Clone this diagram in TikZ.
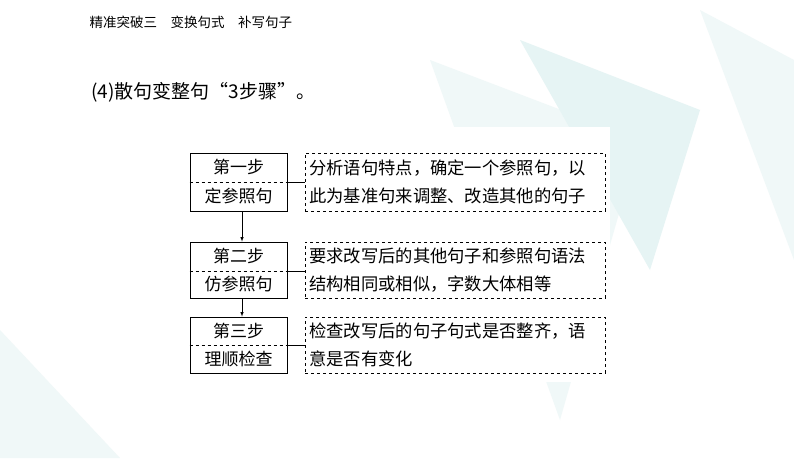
\documentclass[tikz,border=0pt]{standalone}
\usepackage{fontspec}
\newfontfamily\cjk{Noto Sans CJK SC}
\definecolor{teal1}{RGB}{230,244,244}
\definecolor{teal2}{RGB}{240,248,248}
\begin{document}
\begin{tikzpicture}[x=1pt,y=-1pt,font=\cjk,
  stepbox/.style={draw,line width=0.8pt},
  descbox/.style={draw,dashed,line width=0.6pt},
  lbl/.style={font=\cjk\fontsize{17}{20}\selectfont,inner sep=0pt},
  desc/.style={font=\cjk\fontsize{17.3}{28}\selectfont,inner sep=0pt,anchor=west,align=left}]
\useasboundingbox (0,0) rectangle (794,458);
\fill[white] (0,0) rectangle (794,458);
\fill[teal2] (430,60) -- (640,140) -- (560,420) -- cycle;
\fill[teal1] (520,40) -- (700,110) -- (650,270) -- cycle;
\fill[teal2] (700,10) -- (794,60) -- (794,260) -- cycle;
\fill[teal2] (0,330) -- (120,458) -- (0,458) -- cycle;
\fill[white] (187,127) rectangle (610,382);
\node[anchor=west,font=\cjk\fontsize{13.5}{16}\selectfont] (hdr) at (86,22) {精准突破三\quad 变换句式\quad 补写句子};
\node[anchor=west,font=\cjk\fontsize{19}{22}\selectfont] (ttl) at (88,92) {(4)散句变整句“3步骤”。};
\foreach \i/\t/\a/\b/\c/\d/\e in {1/153/211/182/第一步/定参照句/{分析语句特点，确定一个参照句，以\\此为基准句来调整、改造其他的句子},
 2/242/298/271/第二步/仿参照句/{要求改写后的其他句子和参照句语法\\结构相同或相似，字数大体相等},
 3/317/373/345/第三步/理顺检查/{检查改写后的句子句式是否整齐，语\\意是否有变化}}{
  \node[stepbox,minimum width=97,minimum height=\a-\t,inner sep=0pt] (s\i) at (238.5,{(\t+\a)/2}) {};
  \draw[dashed,line width=0.5pt] (s\i.west |- 0,\b) -- (s\i.east |- 0,\b);
  \node[lbl] (u\i) at (238.5,{(\t+\b)/2}) {\c};
  \node[lbl] (l\i) at (238.5,{(\b+\a)/2}) {\d};
  \node[descbox,minimum width=300,minimum height=\a-\t,inner sep=0pt] (d\i) at (455,{(\t+\a)/2}) {};
  \node[desc] (t\i) at (309,{(\t+\a)/2}) {\e};
  \draw[line width=0.6pt] (s\i.east |- 0,\b) -- (d\i.west |- 0,\b);
}
\draw[-latex,line width=0.6pt] (s1.south -| 242,0) -- (s2.north -| 242,0);
\draw[-latex,line width=0.6pt] (s2.south -| 242,0) -- (s3.north -| 242,0);
\end{tikzpicture}
\end{document}
